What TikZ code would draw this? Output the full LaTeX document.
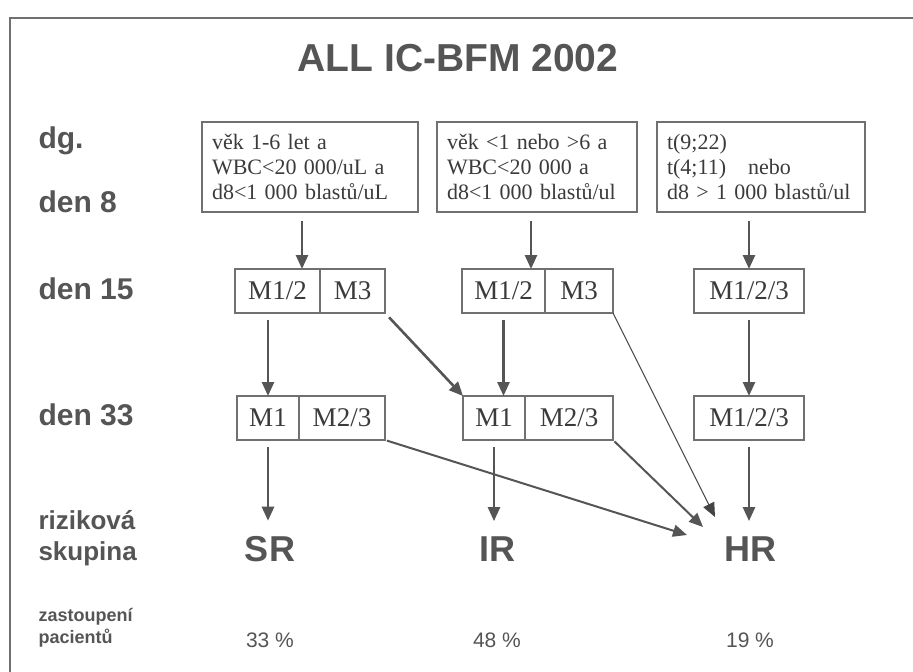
\documentclass[tikz,border=0pt]{standalone}
\usepackage{fontspec}
\setmainfont{Liberation Serif}
\newfontfamily\headfont{Liberation Sans}
\usetikzlibrary{arrows.meta,positioning}
\definecolor{ink}{HTML}{555555}
\definecolor{boxline}{HTML}{707070}
\tikzset{%
    >={Triangle[length=14pt,width=12pt]},
    cond/.style={draw=boxline, line width=1.2pt, align=left, inner xsep=10pt,
        minimum height=90pt, text=ink!70!black, font=\fontsize{22}{25}\selectfont},
    cell/.style={draw=boxline, line width=1.2pt, minimum height=44pt, inner sep=0pt,
        outer sep=0pt, text=ink!70!black, font=\fontsize{27}{27}\selectfont},
    arr/.style={->, draw=ink, line width=2.6pt},
    thinarr/.style={->, draw=ink!80!black, line width=1pt},
    rowlabel/.style={anchor=west, align=left, text=ink, font=\headfont\bfseries\fontsize{30}{30}\selectfont},
    group/.style={text=ink, font=\headfont\bfseries\fontsize{36}{36}\selectfont},
    share/.style={text=ink, font=\headfont\fontsize{21}{21}\selectfont}
}

\begin{document}
\begin{tikzpicture}[x=1pt,y=-1pt]
    \useasboundingbox[fill=white] (0,0) rectangle (913,672);
    \draw[boxline, line width=1.5pt] (10,672) -- (10,18) -- (913,18);

    \node[text=ink, font=\headfont\bfseries\fontsize{39}{39}\selectfont] (title) at (458,58) {ALL IC-BFM 2002};

    % row labels
    \node[rowlabel] (dg) at (35,141) {dg.};
    \node[rowlabel] (d8) at (35,202) {den 8};
    \node[rowlabel] (d15) at (35,289) {den 15};
    \node[rowlabel] (d33) at (35,415) {den 33};
    \node[rowlabel, font=\headfont\bfseries\fontsize{26}{31}\selectfont] (risk) at (35,538) {riziková\\skupina};
    \node[rowlabel, font=\headfont\bfseries\fontsize{18}{22}\selectfont] (pat) at (35,628) {zastoupení\\pacientů};

    % diagnosis criteria
    \node[cond, text width=196pt] (c1) at (310,167) {věk 1-6 let a\\WBC<20 000/uL a\\d8<1 000 blastů/uL};
    \node[cond, text width=180pt] (c2) at (537,167) {věk <1 nebo >6 a\\WBC<20 000 a\\d8<1 000 blastů/ul};
    \node[cond, text width=188pt] (c3) at (761,167) {t(9;22)\\t(4;11)\quad nebo\\d8 > 1 000 blastů/ul};

    % den 15
    \node[cell, minimum width=85pt] (a15) at (277.5,291) {M1/2};
    \node[cell, minimum width=65pt, right=0pt of a15] (b15) {M3};
    \node[cell, minimum width=83pt] (c15) at (503.5,291) {M1/2};
    \node[cell, minimum width=68pt, right=0pt of c15] (e15) {M3};
    \node[cell, minimum width=110pt] (f15) at (749,291) {M1/2/3};

    % den 33
    \node[cell, minimum width=62pt] (a33) at (268,418) {M1};
    \node[cell, minimum width=86pt, right=0pt of a33] (b33) {M2/3};
    \node[cell, minimum width=62pt] (c33) at (494,418) {M1};
    \node[cell, minimum width=88pt, right=0pt of c33] (e33) {M2/3};
    \node[cell, minimum width=110pt] (f33) at (749,418) {M1/2/3};

    % risk groups
    \node[group] (sr) at (270,549) {SR};
    \node[group] (ir) at (497,549) {IR};
    \node[group] (hr) at (750,549) {HR};
    \node[share] (p1) at (270,640) {33 \%};
    \node[share] (p2) at (497,640) {48 \%};
    \node[share] (p3) at (750,640) {19 \%};

    \coordinate (hrA) at (687,535);
    \coordinate (hrB) at (703,527);
    \coordinate (hrC) at (715,517);

    \draw[arr, shorten <=8pt] ([xshift=-8pt]c1.south) -- ([xshift=-8pt]c1.south |- a15.north);
    \draw[arr, shorten <=8pt] ([xshift=-6pt]c2.south) -- ([xshift=-6pt]c2.south |- c15.north);
    \draw[arr, shorten <=8pt] (f15.north |- c3.south) -- (f15.north);

    \draw[arr, shorten <=7pt] (a33.north |- a15.south) -- (a33.north);
    \draw[arr, shorten <=7pt] (c15.south) -- (c15.south |- c33.north);
    \draw[arr, shorten <=7pt] (f15.south) -- (f33.north);
    \draw[arr, shorten <=6pt] (b15.south east) -- (c33.north west);
    \draw[thinarr] (e15.south east) -- (hrC);

    \draw[arr, shorten <=7pt, shorten >=12pt] (a33.south) -- (a33.south |- sr.north);
    \draw[arr, shorten <=7pt, shorten >=12pt] (c33.south) -- (c33.south |- ir.north);
    \draw[arr, shorten <=7pt, shorten >=12pt] (f33.south) -- (f33.south |- hr.north);
    \draw[arr, line width=2pt, shorten <=2pt] (b33.south east) -- (hrA);
    \draw[arr, line width=2pt, shorten <=2pt] (e33.south east) -- (hrB);
\end{tikzpicture}
\end{document}
